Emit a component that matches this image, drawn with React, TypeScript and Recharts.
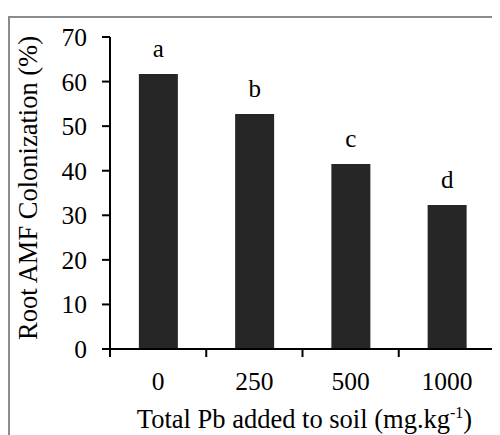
import React from "react";
import { BarChart, Bar, XAxis, YAxis, LabelList } from "recharts";

const categories = ["0", "250", "500", "1000"];
const colonization = [61.7, 52.7, 41.5, 32.3];
const letters = ["a", "b", "c", "d"];
const yTicks = [0, 10, 20, 30, 40, 50, 60, 70];

const data = categories.map((c, i) => ({ dose: c, value: colonization[i], letter: letters[i] }));

const FONT = "Liberation Serif";

const XTick = (props: any) => {
  const { x, y, payload, index, visibleTicksCount } = props;
  const off = payload && typeof payload.offset === "number" && payload.offset > 0 ? payload.offset : 48.1;
  const last = index === (visibleTicksCount ? visibleTicksCount - 1 : categories.length - 1);
  return (
    <g>
      <line x1={x - off} x2={x - off} y1={y} y2={y + 8} stroke="#000" strokeWidth={2} />
      {last && <line x1={x + off} x2={x + off} y1={y} y2={y + 8} stroke="#000" strokeWidth={2} />}
      <text x={x} y={y + 41} textAnchor="middle" fontFamily={FONT} fontSize={25.5} fill="#000">
        {payload.value}
      </text>
    </g>
  );
};

const LetterLabel = (props: any) => {
  const { x, y, width, value } = props;
  return (
    <text x={x + width / 2} y={y - 17} textAnchor="middle" fontFamily={FONT} fontSize={25} fill="#000">
      {value}
    </text>
  );
};

const YLabel = (props: any) => {
  const vb = props.viewBox || { x: 0, y: 29, width: 102, height: 312 };
  const cx = vb.x + 29;
  const cy = vb.y + vb.height / 2 - 5;
  return (
    <text x={cx} y={cy} transform={`rotate(-90, ${cx}, ${cy})`} textAnchor="middle" fontFamily={FONT} fontSize={26.5} fill="#000">
      Root AMF Colonization (%)
    </text>
  );
};

const XLabel = (props: any) => {
  const vb = props.viewBox || { x: 102, y: 341, width: 385, height: 86 };
  const cx = vb.x + vb.width / 2 + 2;
  const cy = vb.y + 79;
  return (
    <text x={cx} y={cy} textAnchor="middle" fontFamily={FONT} fontSize={26.5} fill="#000">
      <tspan>Total Pb added to soil (mg.kg</tspan>
      <tspan dy={-10} fontSize={16}>-1</tspan>
      <tspan dy={10}>)</tspan>
    </text>
  );
};

export default function App() {
  return (
    <div style={{ position: "relative", width: 492, height: 427, overflow: "hidden", background: "#fff", fontFamily: FONT }}>
      <div
        style={{
          position: "absolute",
          left: 0,
          top: 8,
          width: 600,
          height: 600,
          borderTop: "2px solid #8c8c8c",
          borderLeft: "2px solid #8c8c8c",
          boxSizing: "border-box",
        }}
      />
      <div style={{ position: "absolute", left: 0, top: 0 }}>
        <BarChart
          width={492}
          height={427}
          data={data}
          margin={{ top: 29, right: 5, left: 0, bottom: 0 }}
          barCategoryGap="30%"
        >
          <XAxis
            dataKey="dose"
            type="category"
            height={86}
            axisLine={{ stroke: "#000", strokeWidth: 2 }}
            tickLine={false}
            tickSize={0}
            tickMargin={0}
            tick={<XTick />}
            interval={0}
            label={<XLabel />}
          />
          <YAxis
            type="number"
            domain={[0, 70]}
            ticks={yTicks}
            width={102}
            axisLine={{ stroke: "#000", strokeWidth: 2 }}
            tickLine={{ stroke: "#000", strokeWidth: 2 }}
            tickSize={8}
            tickMargin={15}
            tick={{ fill: "#000", fontFamily: FONT, fontSize: 25.5 }}
            interval={0}
            label={<YLabel />}
          />
          <Bar dataKey="value" fill="#262626" isAnimationActive={false}>
            <LabelList dataKey="letter" content={<LetterLabel />} />
          </Bar>
        </BarChart>
      </div>
    </div>
  );
}
